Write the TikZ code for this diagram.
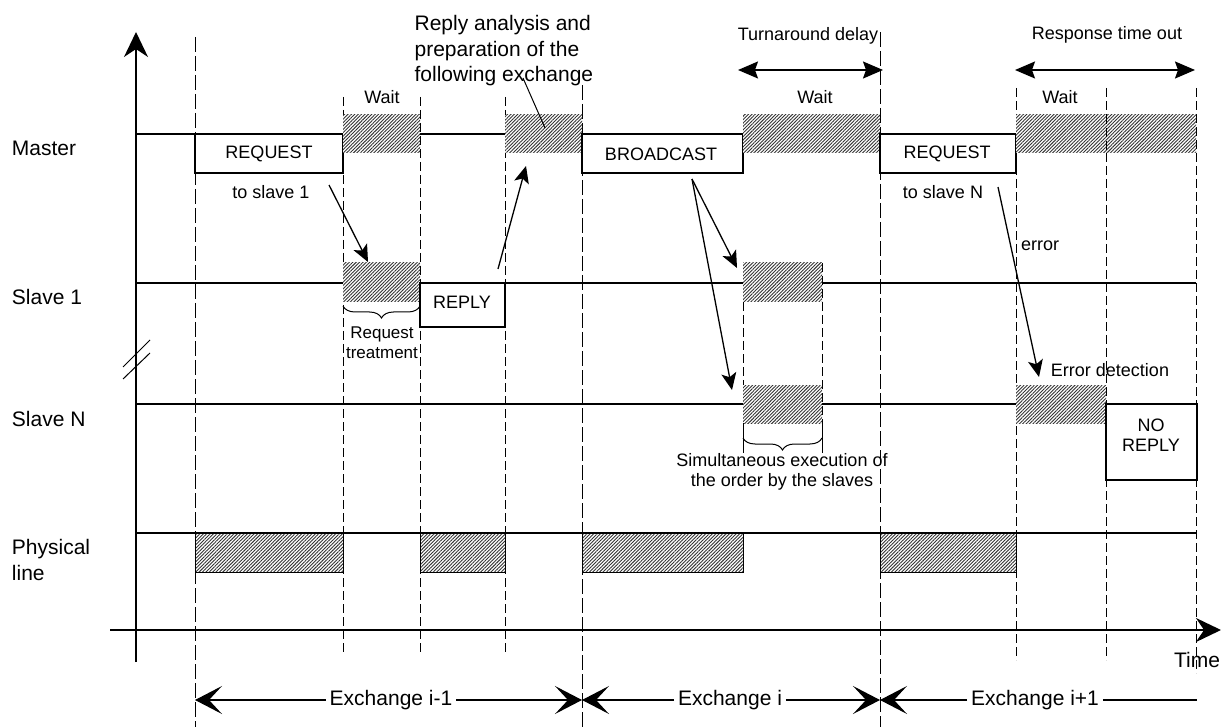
\documentclass[tikz,border=0pt]{standalone}
\usepackage{fontspec}
\setmainfont{Liberation Sans}
\usetikzlibrary{arrows.meta,patterns.meta,decorations.pathreplacing}
\begin{document}
\begin{tikzpicture}[x=1pt,y=-1pt,line width=1.2pt,
  big/.style={font=\fontsize{21}{25.5}\selectfont},
  small/.style={font=\fontsize{18}{20.5}\selectfont},
  hatch/.style={pattern={Lines[angle=45,distance=2.4pt,line width=0.9pt]},pattern color=black!80},
  hatchbox/.style={hatch,preaction={fill=white}},
  dsh/.style={line width=1pt,dash pattern=on 9pt off 4pt},
  ldsh/.style={line width=1pt,dash pattern=on 15pt off 4pt},
  sarrow/.style={-{Stealth[length=17pt,width=15pt,inset=4pt]},line width=1.3pt},
  darrow/.style={{Stealth[length=20pt,width=17pt,inset=3pt]}-{Stealth[length=20pt,width=17pt,inset=3pt]},line width=1.5pt},
  exarrow/.style={-{Stealth[length=27pt,width=28pt,inset=13pt]},line width=1.2pt},
  axarrow/.style={-{Stealth[length=25pt,width=24pt,inset=8pt]},line width=1.4pt},
]
\useasboundingbox (0,0) rectangle (1221,727);

% dashed guide lines
\draw[ldsh] (195,37) -- (195,727);
\draw[ldsh] (582,85) -- (582,727);
\draw[ldsh] (880,32) -- (880,727);
\draw[dsh] (343,97) -- (343,655);
\draw[dsh] (420,97) -- (420,655);
\draw[dsh] (505,97) -- (505,655);
\draw[dsh] (743,263) -- (743,423);
\draw[dsh] (822,263) -- (822,423);
\draw[dsh] (1016,88) -- (1016,660);
\draw[dsh] (1106,88) -- (1106,660);
\draw[dsh] (1196,88) -- (1196,673);

% axes
\coordinate (yb) at (136,662); \coordinate (yt) at (136,32);
\coordinate (xl) at (110,630); \coordinate (xr) at (1221,630);
\draw[axarrow] (yb) -- (yt);
\draw[axarrow] (xl) -- (xr);
\draw[line width=1pt] (123,367) -- (150,340);
\draw[line width=1pt] (123,379) -- (150,353);

% time lines
\draw (136,134) -- (1196,134);
\draw (136,283) -- (1196,283);
\draw (136,404) -- (1106,404);
\draw (136,533) -- (1196,533);

% master
\draw[fill=white] (195,134) rectangle (343,173);
\path[hatchbox] (343,115) rectangle (420,153);
\path[hatchbox] (505,115) rectangle (582,153);
\draw[fill=white] (582,134) rectangle (743,173);
\path[hatchbox] (743,115) rectangle (880,153);
\draw[fill=white] (880,134) rectangle (1016,173);
\path[hatchbox] (1016,115) rectangle (1196,153);
\draw[dsh] (1106,115) -- (1106,153);

% slave 1
\path[hatchbox] (343,263) rectangle (420,302);
\draw[fill=white] (420,283) rectangle (505,327);
\path[hatchbox] (743,263) rectangle (822,302);

% slave N
\path[hatchbox] (743,385) rectangle (822,423);
\path[hatchbox] (1016,385) rectangle (1106,423);
\draw[fill=white] (1106,404) rectangle (1197,480);

% physical line
\draw[line width=0.8pt,hatchbox] (195,533) rectangle (343,572);
\draw[line width=0.8pt,hatchbox] (420,533) rectangle (505,572);
\draw[line width=0.8pt,hatchbox] (582,533) rectangle (743,572);
\draw[line width=0.8pt,hatchbox] (880,533) rectangle (1016,572);

% braces
\draw[line width=1pt,decorate,decoration={brace,amplitude=12pt,mirror}] (343,306) -- (420,306);
\draw[line width=1pt] (743,423) -- (743,453);
\draw[line width=1pt] (822,423) -- (822,453);
\draw[line width=1pt,decorate,decoration={brace,amplitude=12pt,mirror}] (743,438) -- (822,438);

% labels
\node[big,anchor=west] (master) at (8,148) {Master};
\node[big,anchor=west] (slave1) at (8,297) {Slave 1};
\node[big,anchor=west] (slaveN) at (8,419) {Slave N};
\node[big,anchor=west,align=left] (phys) at (8,560) {Physical\\line};
\node[big,anchor=north west,align=left,inner sep=0pt] (reply) at (414,15) {Reply analysis and\\preparation of the\\following exchange};
\node[small] (turn) at (808,36) {Turnaround delay};
\node[small] (resp) at (1107,35) {Response time out};
\node[small] (w1) at (382,97) {Wait};
\node[small] (w2) at (815,97) {Wait};
\node[small] (w3) at (1060,97) {Wait};
\node[small] (req1) at (269,154) {REQUEST};
\node[small] (bc) at (661,154) {BROADCAST};
\node[small] (req2) at (947,154) {REQUEST};
\node[small] (ts1) at (271,192) {to slave 1};
\node[small] (tsN) at (943,192) {to slave N};
\node[small] (rep) at (462,302) {REPLY};
\node[small,align=center] (noreply) at (1151,435) {NO\\REPLY};
\node[small,align=center,font=\fontsize{17}{20}\selectfont] (rtreat) at (382,343) {Request\\treatment};
\node[small] (err) at (1040,246) {error};
\node[small] (errd) at (1110,370) {Error detection};
\node[small,align=center] (sim) at (782,472) {Simultaneous execution of\\the order by the slaves};
\node[big] (time) at (1197,660) {Time};

% duration arrows
\coordinate (ta) at (738,70); \coordinate (tb) at (883,70);
\draw[darrow] (ta) -- (tb);
\coordinate (ra) at (1015,70); \coordinate (rb) at (1195,70);
\draw[darrow] (ra) -- (rb);

% message arrows
\coordinate (a1s) at (329,185); \coordinate (a1e) at (368,262);
\draw[sarrow] (a1s) -- (a1e);
\coordinate (a2s) at (498,269); \coordinate (a2e) at (526,166);
\draw[sarrow] (a2s) -- (a2e);
\coordinate (rls) at (523,78); \coordinate (rle) at (545,128);
\draw[line width=1pt] (rls) -- (rle);
\coordinate (bs) at (692,179); \coordinate (b1e) at (737,268); \coordinate (b2e) at (732,390);
\draw[sarrow] (bs) -- (b1e);
\draw[sarrow] (bs) -- (b2e);
\coordinate (es) at (998,187); \coordinate (ee) at (1039,377);
\draw[sarrow] (es) -- (ee);

% exchanges
\node[big] (ex1) at (391,700) {Exchange i-1};
\node[big] (ex2) at (730,700) {Exchange i};
\node[big] (ex3) at (1035,700) {Exchange i+1};
\coordinate (e1l) at (195,700); \coordinate (e1r) at (582,700);
\coordinate (e2l) at (582,700); \coordinate (e2r) at (880,700);
\coordinate (e3l) at (880,700); \coordinate (e3r) at (1197,700);
\draw[exarrow] (ex1) -- (e1l);
\draw[exarrow] (ex1) -- (e1r);
\draw[exarrow] (ex2) -- (e2l);
\draw[exarrow] (ex2) -- (e2r);
\draw[exarrow] (ex3) -- (e3l);
\draw (ex3.east) -- (e3r);
\end{tikzpicture}
\end{document}
